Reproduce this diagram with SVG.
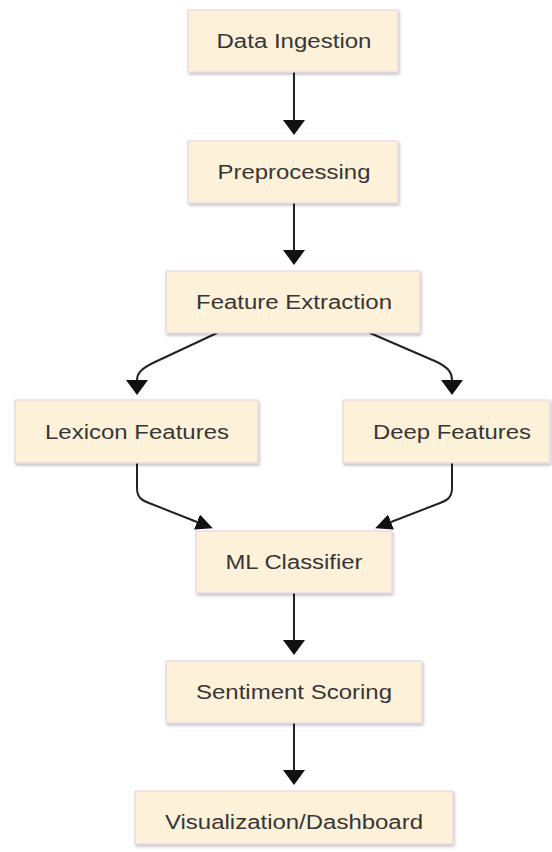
<svg xmlns="http://www.w3.org/2000/svg" width="552" height="852" viewBox="0 0 552 852">
<style>
.box{fill:#fef1da;stroke:#e2cfe8;stroke-width:1;filter:url(#sh)}
.lbl{font-family:"Liberation Sans",Arial,sans-serif;font-size:20px;fill:#363636;text-anchor:middle}
.edge{fill:none;stroke:#222;stroke-width:2}
</style>
<defs>
<filter id="sh" x="-10%" y="-20%" width="120%" height="150%">
<feDropShadow dx="1" dy="2" stdDeviation="1.5" flood-color="#000" flood-opacity="0.25"/>
</filter>
<marker id="av" viewBox="0 -11 15 22" markerWidth="15" markerHeight="22" refX="0" refY="0" orient="auto" markerUnits="userSpaceOnUse">
<path d="M0,-11 L15,0 L0,11 z" fill="#111"/>
</marker>
<marker id="ad" viewBox="0 -8 17 16" markerWidth="17" markerHeight="16" refX="0" refY="0" orient="auto" markerUnits="userSpaceOnUse">
<path d="M0,-8 L17,0 L0,8 z" fill="#111"/>
</marker>
</defs>
<g id="connectors">
<path class="edge" d="M294,72 L294,120" marker-end="url(#av)"/>
<path class="edge" d="M294,203 L294,250" marker-end="url(#av)"/>
<path class="edge" d="M217,333 L155,362 C140,369 137,374 137,380" marker-end="url(#av)"/>
<path class="edge" d="M370,333 L437,362 C449,368 452,373 452,380" marker-end="url(#av)"/>
<path class="edge" d="M137,463 L137,488 C137,497 141,500 149,503 L197,522" marker-end="url(#ad)"/>
<path class="edge" d="M452,463 L452,488 C452,497 448,500 440,503 L391,522" marker-end="url(#ad)"/>
<path class="edge" d="M294,593 L294,640" marker-end="url(#av)"/>
<path class="edge" d="M294,723 L294,770" marker-end="url(#av)"/>
</g>
<g id="n1"><rect class="box" x="188" y="10" width="210" height="62"/><text class="lbl" x="294" y="48" textLength="155" lengthAdjust="spacingAndGlyphs">Data Ingestion</text></g>
<g id="n2"><rect class="box" x="188" y="141" width="210" height="62"/><text class="lbl" x="294" y="178.5" textLength="153" lengthAdjust="spacingAndGlyphs">Preprocessing</text></g>
<g id="n3"><rect class="box" x="166" y="271" width="254" height="62"/><text class="lbl" x="294" y="308.5" textLength="196" lengthAdjust="spacingAndGlyphs">Feature Extraction</text></g>
<g id="n4"><rect class="box" x="15" y="400" width="243" height="63"/><text class="lbl" x="137" y="438.5" textLength="184" lengthAdjust="spacingAndGlyphs">Lexicon Features</text></g>
<g id="n5"><rect class="box" x="343" y="400" width="207" height="63"/><text class="lbl" x="452" y="438.5" textLength="158" lengthAdjust="spacingAndGlyphs">Deep Features</text></g>
<g id="n6"><rect class="box" x="196" y="531" width="196" height="62"/><text class="lbl" x="294" y="568.5" textLength="137" lengthAdjust="spacingAndGlyphs">ML Classifier</text></g>
<g id="n7"><rect class="box" x="166" y="661" width="256" height="62"/><text class="lbl" x="294" y="698.5" textLength="196" lengthAdjust="spacingAndGlyphs">Sentiment Scoring</text></g>
<g id="n8"><rect class="box" x="135" y="791" width="318" height="53"/><text class="lbl" x="294" y="828.5" textLength="258" lengthAdjust="spacingAndGlyphs">Visualization/Dashboard</text></g>
</svg>
